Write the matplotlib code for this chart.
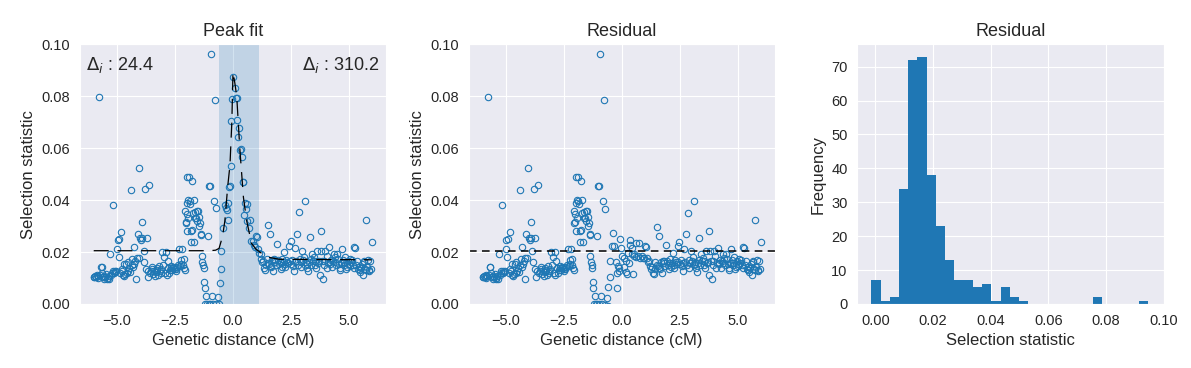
import numpy as np
import matplotlib
matplotlib.use("Agg")
import matplotlib.pyplot as plt
import seaborn as sns

# left flank (-6 .. -2.1 cM)
left_x = [-6.00, -5.97, -5.93, -5.90, -5.86, -5.83, -5.80, -5.76, -5.73, -5.69, -5.66, -5.63, -5.60, -5.57,
          -5.54, -5.50, -5.47, -5.43, -5.40, -5.36, -5.33, -5.29, -5.26, -5.22, -5.19, -5.16, -5.13, -5.10,
          -5.07, -5.04, -5.00, -4.97, -4.93, -4.89, -4.86, -4.83, -4.80, -4.76, -4.73, -4.71, -4.68, -4.64,
          -4.61, -4.58, -4.54, -4.51, -4.47, -4.44, -4.40, -4.37, -4.33, -4.30, -4.28, -4.25, -4.22, -4.18,
          -4.15, -4.11, -4.07, -4.04, -4.00, -3.96, -3.93, -3.90, -3.85, -3.82, -3.80, -3.76, -3.72, -3.68,
          -3.65, -3.61, -3.58, -3.54, -3.50, -3.47, -3.43, -3.40, -3.36, -3.33, -3.29, -3.26, -3.22, -3.19,
          -3.15, -3.12, -3.08, -3.04, -3.01, -2.97, -2.93, -2.89, -2.86, -2.82, -2.79, -2.75, -2.72, -2.68,
          -2.65, -2.61, -2.58, -2.54, -2.51, -2.47, -2.44, -2.40, -2.36, -2.32, -2.29, -2.25, -2.22, -2.18,
          -2.15, -2.13, -2.10]
left_y = [.0105, .0102, .0108, .0104, .0112, .0100, .0106, .0795, .0110, .0144, .0142, .0118, .0103, .0108,
          .0098, .0104, .0115, .0096, .0101, .0109, .0096, .0193, .0112, .0121, .0125, .0382, .0118, .0126,
          .0122, .0126, .0212, .0246, .0180, .0250, .0119, .0278, .0135, .0125, .0110, .0154, .0106, .0115,
          .0154, .0118, .0160, .0128, .0138, .0123, .0438, .0150, .0173, .0141, .0218, .0152, .0167, .0096,
          .0178, .0270, .0177, .0523, .0254, .0248, .0253, .0314, .0203, .0160, .0442, .0135, .0253, .0105,
          .0128, .0458, .0120, .0128, .0135, .0141, .0115, .0128, .0108, .0122, .0140, .0130, .0113, .0145,
          .0125, .0118, .0136, .0200, .0150, .0180, .0118, .0200, .0112, .0167, .0140, .0120, .0132, .0138,
          .0145, .0130, .0142, .0140, .0133, .0128, .0136, .0142, .0150, .0210, .0145, .0155, .0168, .0210,
          .0150, .0173, .0139]

# raised cluster and dip before the peak
mid_x = [-2.08, -2.06, -2.04, -2.03, -2.00, -1.99, -1.97, -1.96, -1.94, -1.92, -1.89, -1.87, -1.85, -1.82,
         -1.80, -1.77, -1.75, -1.72, -1.70, -1.68, -1.65, -1.62, -1.59, -1.56, -1.53, -1.49, -1.47, -1.45,
         -1.42, -1.39, -1.37, -1.35, -1.32, -1.29, -1.27, -1.25, -1.22, -1.20, -1.16, -1.13, -1.07, -1.05,
         -1.02, -0.99, -0.97, -0.95, -0.90, -0.87, -0.82, -0.77, -0.74, -0.72, -0.65, -0.60, -0.58, -0.53]
mid_y = [.0359, .0132, .0310, .0314, .0346, .0280, .0490, .0390, .0400, .0330, .0490, .0398, .0385, .0240,
         .0280, .0285, .0474, .0350, .0400, .0240, .0330, .0355, .0330, .0359, .0320, .0359, .0300, .0336,
         .0310, .0270, .0265, .0186, .0160, .0150, .0138, .0083, .0062, .0000, .0032, .0000, .0260, .0000,
         .0455, .0455, .0000, .0962, .0032, .0000, .0397, .0785, .0369, .0000, .0028, .0000, .0082, .0135]

# peak
peak_x = [-0.50, -0.43, -0.36, -0.32, -0.27, -0.21, -0.20, -0.16, -0.13, -0.10, -0.07, -0.03, 0.00, 0.09,
          0.11, 0.16, 0.19, 0.23, 0.26, 0.29, 0.36, 0.37, 0.42, 0.44, 0.47, 0.52, 0.54, 0.59, 0.62, 0.69,
          0.74, 0.79, 0.85, 0.90, 0.95, 1.00, 1.05, 1.07, 1.12, 1.19]
peak_y = [.0205, .0292, .0382, .0369, .0362, .0323, .0390, .0449, .0455, .0532, .0705, .0788, .0874, .0833,
          .0792, .0792, .0708, .0641, .0677, .0592, .0596, .0564, .0468, .0468, .0344, .0388, .0365, .0385,
          .0320, .0292, .0323, .0244, .0241, .0228, .0221, .0263, .0256, .0212, .0195, .0192]

# right flank (1.2 .. 6 cM)
right_x = [1.22, 1.26, 1.30, 1.34, 1.38, 1.42, 1.45, 1.50, 1.52, 1.55, 1.59, 1.62, 1.65, 1.69, 1.73, 1.76,
           1.80, 1.83, 1.87, 1.91, 1.94, 1.98, 2.02, 2.05, 2.09, 2.12, 2.16, 2.19, 2.23, 2.26, 2.30, 2.33,
           2.36, 2.41, 2.44, 2.48, 2.52, 2.55, 2.58, 2.62, 2.65, 2.69, 2.73, 2.77, 2.80, 2.84, 2.88, 2.91,
           2.95, 2.98, 3.02, 3.05, 3.09, 3.12, 3.15, 3.17, 3.20, 3.22, 3.27, 3.31, 3.34, 3.38, 3.41, 3.45,
           3.48, 3.52, 3.55, 3.58, 3.62, 3.66, 3.70, 3.74, 3.77, 3.81, 3.85, 3.88, 3.91, 3.94, 3.98, 4.03,
           4.06, 4.10, 4.13, 4.17, 4.20, 4.24, 4.27, 4.31, 4.34, 4.38, 4.41, 4.45, 4.48, 4.52, 4.56, 4.60,
           4.63, 4.67, 4.70, 4.74, 4.77, 4.80, 4.84, 4.88, 4.91, 4.95, 4.99, 5.02, 5.06, 5.09, 5.13, 5.16,
           5.20, 5.23, 5.27, 5.30, 5.34, 5.38, 5.42, 5.45, 5.49, 5.52, 5.56, 5.60, 5.63, 5.66, 5.69, 5.72,
           5.75, 5.77, 5.81, 5.85, 5.88, 5.92, 5.95, 5.99]
right_y = [.0172, .0160, .0164, .0140, .0131, .0150, .0173, .0305, .0158, .0154, .0270, .0148, .0141, .0170,
           .0126, .0173, .0162, .0169, .0150, .0231, .0170, .0154, .0160, .0135, .0175, .0144, .0160, .0199,
           .0152, .0141, .0170, .0162, .0156, .0224, .0165, .0241, .0154, .0170, .0148, .0128, .0160, .0215,
           .0165, .0270, .0150, .0353, .0172, .0141, .0160, .0205, .0168, .0182, .0150, .0397, .0162, .0154,
           .0140, .0126, .0160, .0256, .0172, .0150, .0192, .0165, .0179, .0150, .0167, .0140, .0205, .0158,
           .0164, .0113, .0282, .0205, .0165, .0096, .0150, .0167, .0205, .0186, .0140, .0158, .0218, .0160,
           .0154, .0170, .0141, .0165, .0192, .0160, .0179, .0150, .0192, .0172, .0154, .0140, .0131, .0158,
           .0212, .0168, .0160, .0150, .0182, .0136, .0141, .0165, .0154, .0145, .0173, .0160, .0169, .0150,
           .0218, .0140, .0215, .0150, .0167, .0135, .0141, .0130, .0122, .0140, .0154, .0113, .0160, .0167,
           .0135, .0324, .0130, .0141, .0170, .0131, .0128, .0167, .0135, .0237]

# fitted peak curve and its baseline
fit_x = [-6.00, -1.00, -0.75, -0.60, -0.45, -0.35, -0.23, -0.13, -0.05, 0.00, 0.08, 0.16, 0.30, 0.45, 0.59,
         0.80, 1.00, 1.20, 1.50, 2.00, 5.97]
fit_y = [.0205, .0205, .0207, .0214, .0260, .0320, .0450, .0535, .0700, .0893, .0850, .0800, .0590, .0410,
         .0320, .0233, .0210, .0197, .0180, .0172, .0170]
base_y = [.0205, .0205, .0205, .0205, .0205, .0205, .0205, .0205, .0205, .0205, .0188, .0172, .0170, .0170,
          .0170, .0170, .0170, .0170, .0170, .0170, .0170]
base_left = 0.0205
span = (-0.61, 1.14)
delta_left = 24.4
delta_right = 310.2

# residual histogram (30 bins)
hist_lo, hist_hi = -0.0014, 0.0947
hist_counts = [7, 1, 2, 34, 72, 73, 38, 23, 13, 7, 7, 5, 6, 1, 5, 2, 1, 0, 0, 0,
               0, 0, 0, 0, 2, 0, 0, 0, 0, 1]

def main():
    sns.set_style("darkgrid")
    plt.rcParams["font.family"] = ["Liberation Sans", "DejaVu Sans"]

    x = np.array(left_x + mid_x + peak_x + right_x)
    y = np.array(left_y + mid_y + peak_y + right_y)
    peak_part = np.interp(x, fit_x, fit_y) - np.interp(x, fit_x, base_y)
    resid = y - peak_part

    fig, axes = plt.subplots(1, 3, figsize=(11.91, 3.68), dpi=100)
    fig.subplots_adjust(left=0.067, right=0.977, bottom=0.174, top=0.88, wspace=0.27)
    col = "#1f77b4"
    mk = dict(ls="none", marker="o", mfc="none", mec=col, ms=4.6, mew=0.8)

    ax = axes[0]
    ax.axvspan(*span, color=col, alpha=0.2, lw=0)
    ax.plot(x, y, **mk)
    ax.plot(fit_x, fit_y, color="k", lw=0.9, dashes=(12, 7))
    ax.set_ylim(0, 0.1)
    ax.set_title("Peak fit", fontsize=13)
    ax.text(0.02, 0.96, r"$\Delta_i$ : %.1f" % delta_left, transform=ax.transAxes,
            ha="left", va="top", fontsize=13, color=".15")
    ax.text(0.98, 0.96, r"$\Delta_i$ : %.1f" % delta_right, transform=ax.transAxes,
            ha="right", va="top", fontsize=13, color=".15")

    ax = axes[1]
    ax.plot(x, resid, **mk)
    ax.axhline(base_left, color="k", lw=1.1, dashes=(5, 3.5))
    ax.set_ylim(0, 0.1)
    ax.set_xlim(axes[0].get_xlim())
    ax.set_title("Residual", fontsize=13)

    for ax in axes[:2]:
        ax.set_xlabel("Genetic distance (cM)", fontsize=12)
        ax.set_ylabel("Selection statistic", fontsize=12)

    ax = axes[2]
    edges = np.linspace(hist_lo, hist_hi, len(hist_counts) + 1)
    centers = 0.5 * (edges[:-1] + edges[1:])
    ax.hist(centers, bins=edges, weights=hist_counts, color=col, edgecolor="none", linewidth=0)
    ax.set_xticks([0.0, 0.02, 0.04, 0.06, 0.08, 0.10])
    ax.set_title("Residual", fontsize=13)
    ax.set_xlabel("Selection statistic", fontsize=12)
    ax.set_ylabel("Frequency", fontsize=12)

    for ax in axes:
        ax.tick_params(labelsize=10.5)

    plt.savefig("out.png", dpi=100)


if __name__ == "__main__":
    main()
